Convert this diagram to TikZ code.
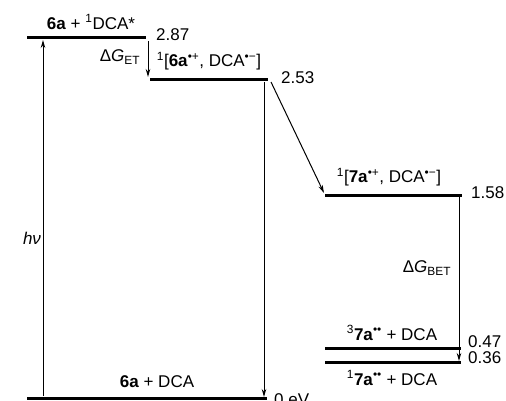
\documentclass[tikz,border=0pt]{standalone}
\usepackage{fontspec}
\setmainfont{Liberation Sans}
\usetikzlibrary{arrows.meta}
\begin{document}
\begin{tikzpicture}[x=1pt,y=-1pt,
  level/.style={line width=3pt},
  conn/.style={line width=1pt,-{Stealth[length=8pt,width=4.5pt]}},
  lbl/.style={inner sep=0pt,font=\fontsize{17}{20}\selectfont},
  val/.style={lbl,anchor=west}]
\useasboundingbox (0,0) rectangle (506,401);
% level end points
\coordinate (L1a) at (27,38);  \coordinate (L1b) at (146,38);
\coordinate (L2a) at (150,80); \coordinate (L2b) at (268,80);
\coordinate (L3a) at (325,195);\coordinate (L3b) at (462,195);
\coordinate (L4a) at (325,348);\coordinate (L4b) at (461,348);
\coordinate (L5a) at (325,362);\coordinate (L5b) at (461,362);
\coordinate (L0a) at (27,398); \coordinate (L0b) at (267,398);
\draw[level] (L1a) -- (L1b);
\draw[level] (L2a) -- (L2b);
\draw[level] (L3a) -- (L3b);
\draw[level] (L4a) -- (L4b);
\draw[level] (L5a) -- (L5b);
\draw[level] (L0a) -- (L0b);
% arrow end points
\coordinate (hvS) at (43,396);  \coordinate (hvE) at (43,40);
\coordinate (etS) at (148,41);  \coordinate (etE) at (148,77);
\coordinate (dS) at (271,82);   \coordinate (dE) at (324,193);
\coordinate (vS) at (264,82);   \coordinate (vE) at (264,397);
\coordinate (bS) at (459,197);  \coordinate (bE) at (459,361);
\draw[conn] (hvS) -- (hvE);
\draw[conn] (etS) -- (etE);
\draw[conn] (dS) -- (dE);
\draw[conn] (vS) -- (vE);
\draw[conn] (bS) -- (bE);
% labels
\node[lbl] (t1) at (91,22) {\textbf{6a} + \textsuperscript{1}DCA*};
\node[val] (v1) at (156,35) {2.87};
\node[lbl] (tet) at (120,57) {Δ\textit{G}\textsubscript{ET}};
\node[lbl] (t2) at (209,61) {\textsuperscript{1}[\textbf{6a}\textsuperscript{•+}, DCA\textsuperscript{•−}]};
\node[val] (v2) at (281,78) {2.53};
\node[lbl] (t3) at (389,177) {\textsuperscript{1}[\textbf{7a}\textsuperscript{•+}, DCA\textsuperscript{•−}]};
\node[val] (v3) at (471,193) {1.58};
\node[lbl] (tbet) at (427,268) {Δ\textit{G}\textsubscript{BET}};
\node[lbl] (t4) at (392,333) {\textsuperscript{3}\textbf{7a}\textsuperscript{••} + DCA};
\node[val] (v4) at (468,342) {0.47};
\node[val] (v5) at (468,358) {0.36};
\node[lbl] (t5) at (392,378) {\textsuperscript{1}\textbf{7a}\textsuperscript{••} + DCA};
\node[lbl] (t0) at (157,382) {\textbf{6a} + DCA};
\node[val] (v0) at (274,400) {0 eV};
\node[lbl] (hv) at (32,238) {\textit{hν}};
\end{tikzpicture}
\end{document}
